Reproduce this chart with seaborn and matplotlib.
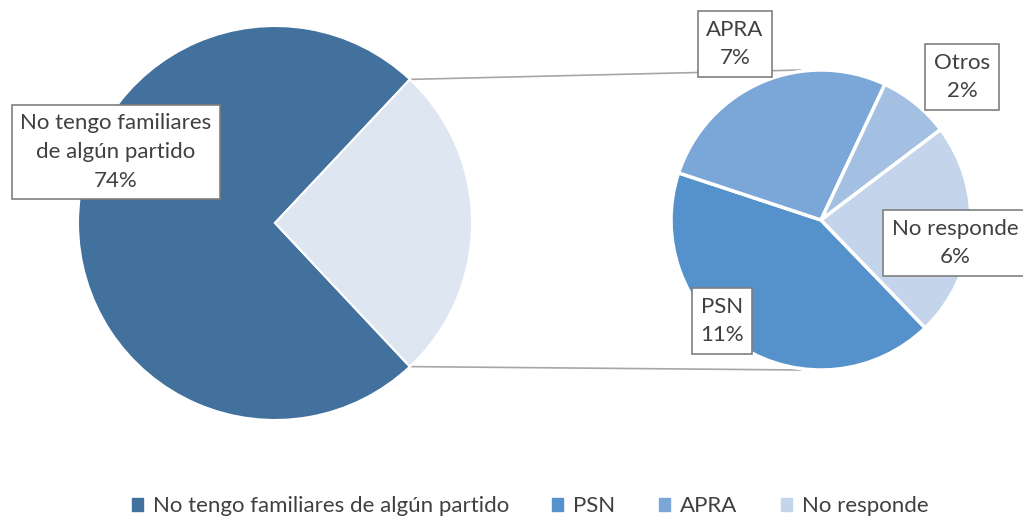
import numpy as np
import matplotlib.pyplot as plt
import seaborn as sns
from matplotlib.patches import Patch

# main pie
main_labels = ['No tengo familiares de algún partido', 'Otros partidos']
main_values = [74, 26]
main_colors = ['#41719C', '#DEE6F2']

# secondary pie (breakdown of the 26%)
sub_labels = ['PSN', 'APRA', 'Otros', 'No responde']
sub_values = [11, 7, 2, 6]
sub_colors = ['#5592CB', '#7BA7D8', '#A3C0E3', '#C3D4EB']

# legend entries as shown in the original (Otros absent)
legend_labels = ['No tengo familiares de algún partido', 'PSN', 'APRA', 'No responde']
legend_colors = ['#41719C', '#5592CB', '#7BA7D8', '#C3D4EB']

sns.set_theme(style='white')
plt.rcParams['font.family'] = ['Lato', 'DejaVu Sans']

fig = plt.figure(figsize=(10.23, 5.17), dpi=100)
ax = fig.add_axes([0, 0, 1, 1])

c1, r1 = (275, 294), 197
c2, r2 = (821, 297), 150

start1 = 180 * main_values[1] / sum(main_values)
w1, _ = ax.pie(main_values, colors=main_colors, center=c1, radius=r1,
               startangle=start1, wedgeprops=dict(edgecolor='white', linewidth=1.5))
w2, _ = ax.pie(sub_values, colors=sub_colors, center=c2, radius=r2,
               startangle=-46, counterclock=False,
               wedgeprops=dict(edgecolor='white', linewidth=2.5))

ax.set_xlim(0, 1023)
ax.set_ylim(0, 517)
ax.set_aspect('equal')
ax.axis('off')

# connector lines
for ang, side in [(w1[1].theta2, 1), (w1[1].theta1, -1)]:
    x0 = c1[0] + r1 * np.cos(np.radians(ang))
    y0 = c1[1] + r1 * np.sin(np.radians(ang))
    ax.plot([x0, c2[0] - 20], [y0, c2[1] + side * r2], color='#A6A6A6', lw=1.2, zorder=0)

box = dict(boxstyle='square,pad=0.38', fc='white', ec='#7F7F7F', lw=1.2)
txt = dict(ha='center', va='center', fontsize=16, color='#404040', bbox=box, linespacing=1.55)

ax.text(116, 517 - 152, f'{main_labels[0][:19]}\n{main_labels[0][20:]}\n{main_values[0]}%', **txt)
sub_pos = [(722, 517 - 321), (735, 517 - 44), (962, 517 - 77), (955, 517 - 243)]
for (x, y), lab, v in zip(sub_pos, sub_labels, sub_values):
    ax.text(x, y, f'{lab}\n{v}%', **txt)

handles = [Patch(color=c) for c in legend_colors]
fig.legend(handles, legend_labels, loc='lower center', ncol=4, frameon=False,
           fontsize=16, handlelength=0.5, handleheight=0.5, columnspacing=1.95,
           handletextpad=0.45, bbox_to_anchor=(0.518, -0.037), labelcolor='#404040')

fig.savefig('out.png', dpi=100)
